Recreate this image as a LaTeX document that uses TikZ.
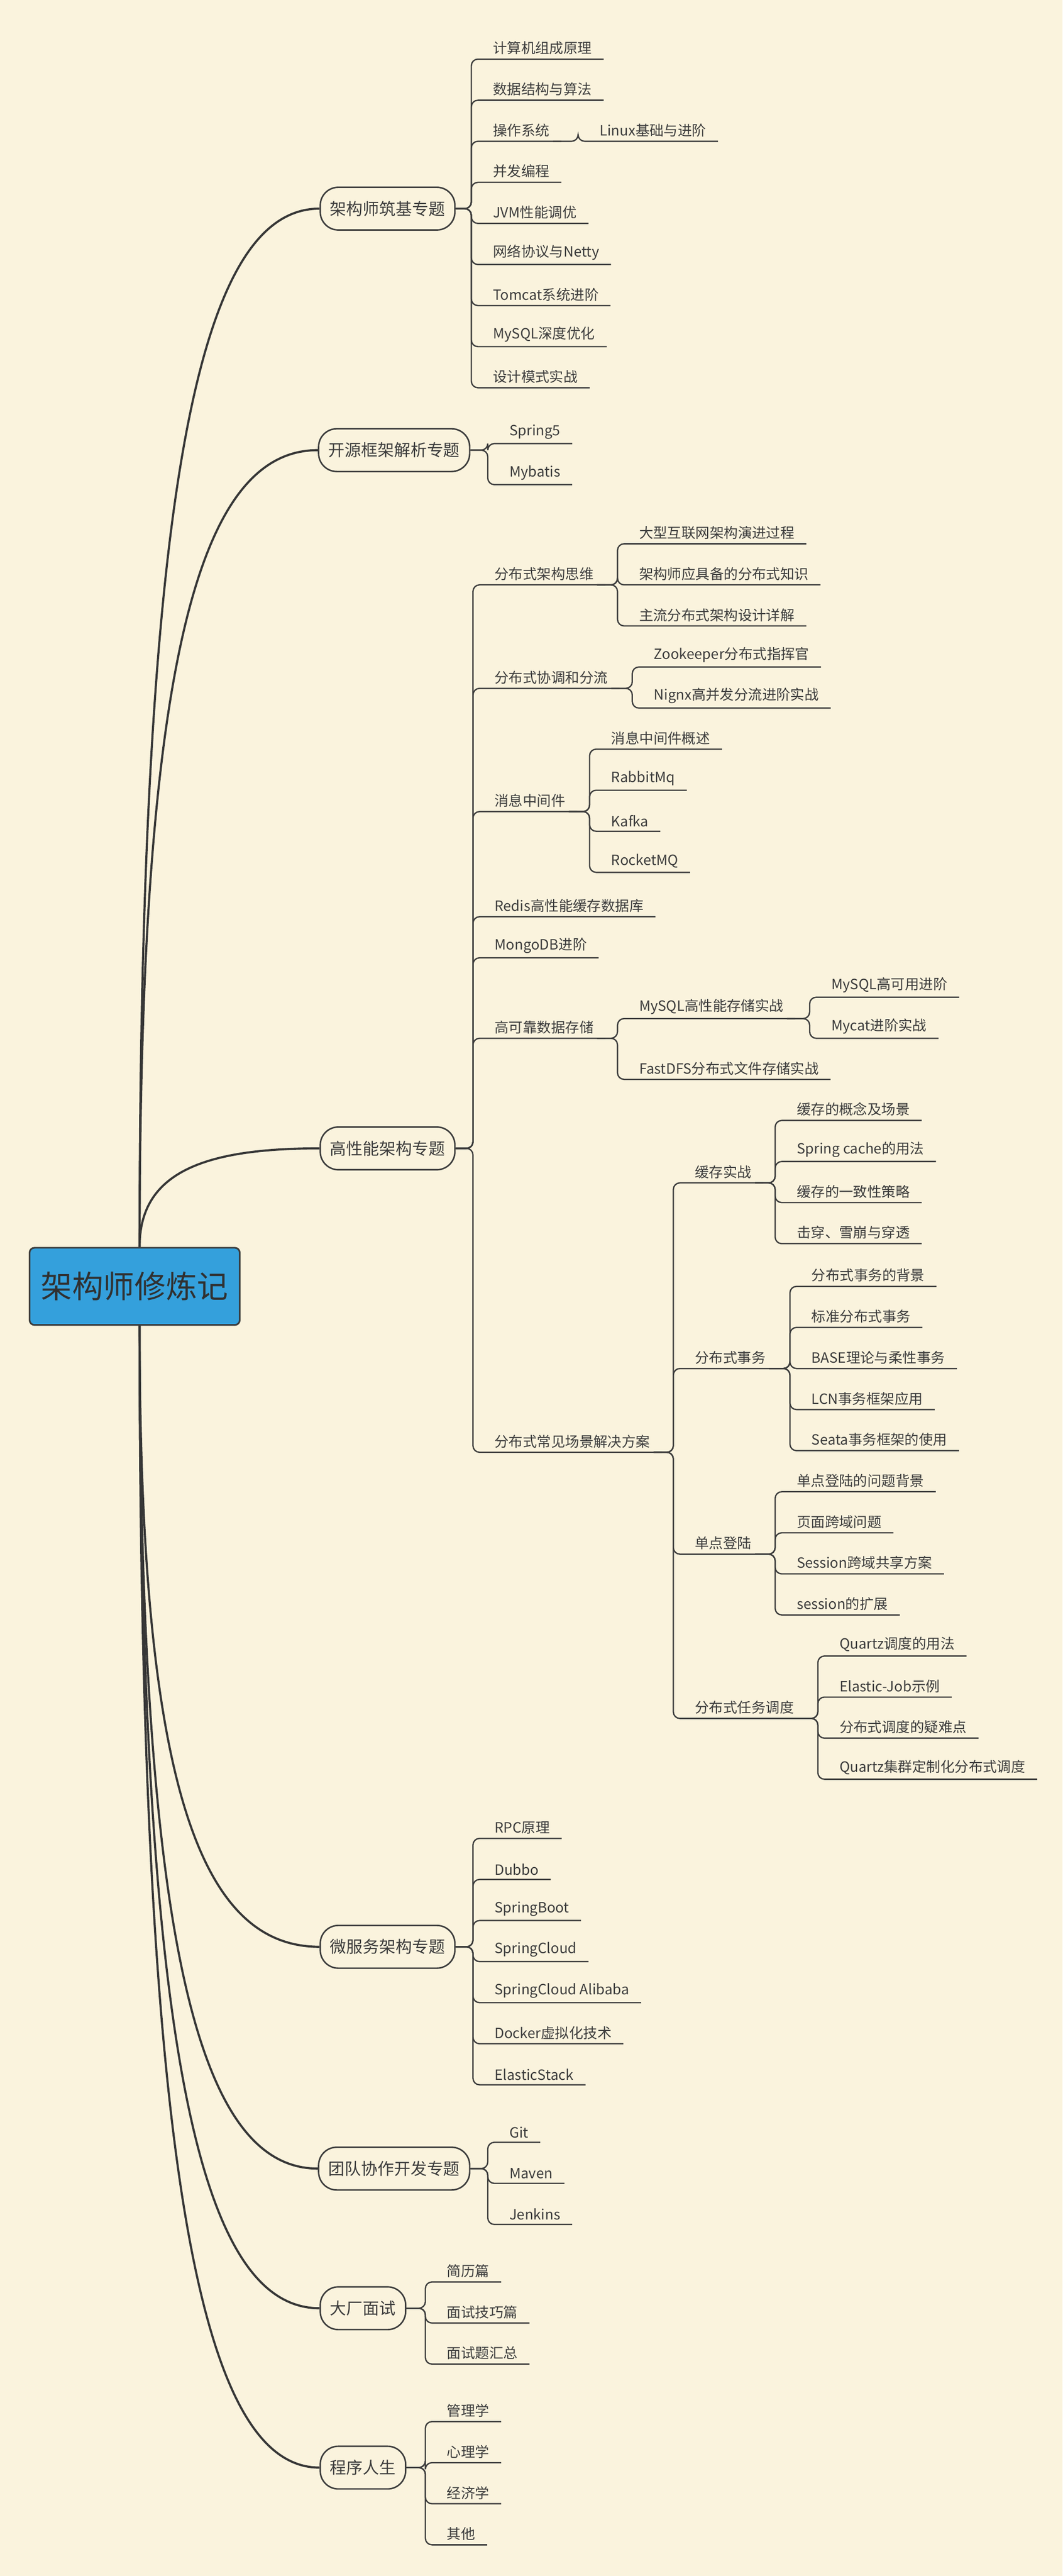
\documentclass[tikz,border=0pt]{standalone}
\usepackage{fontspec}
\usetikzlibrary{calc}
\setmainfont{Noto Sans CJK SC}
\definecolor{bg}{RGB}{250,243,221}
\definecolor{ink}{RGB}{60,60,60}
\definecolor{rootc}{RGB}{52,160,220}
\tikzset{
  ln/.style={draw=ink,line width=0.8pt},
  cv/.style={draw=ink!90!black,line width=1.3pt},
  leaf/.style={inner xsep=2pt,inner ysep=2.5pt,text=ink,font=\fontsize{8.6}{10}\selectfont},
  topic/.style={draw=ink,line width=0.9pt,rounded corners=11pt,fill=bg,minimum height=26pt,inner xsep=6pt,text=ink,font=\fontsize{10}{12}\selectfont},
  rootbox/.style={draw=ink,line width=1pt,fill=rootc,rounded corners=3pt,minimum width=128pt,minimum height=47pt,text=ink!80!black,font=\fontsize{19}{22}\selectfont}
}
\newcommand\lf[5]{%
  \node[leaf,anchor=south west] (#4) at (#2+11,#3) {#5};
  \draw[ln,rounded corners=4pt] (#1) -| (#2,#3) -- ([xshift=5pt]#4.south east);}
\newcommand\crv[2]{%
  \draw[cv] (#1) .. controls ($(#1)!0.75!(#1|-#2.west)$) and ($(#1|-#2.west)!0.35!(#2.west)$) .. (#2.west);}
\begin{document}
\begin{tikzpicture}[x=1pt,y=-1pt]
\fill[bg] (0,0) rectangle (647,1568);
\useasboundingbox (0,0) rectangle (647,1568);
\node[rootbox] (root) at (82,783) {架构师修炼记};
\node[topic] (A) at (236,127) {架构师筑基专题};
\node[topic] (B) at (240,274) {开源框架解析专题};
\node[topic] (C) at (236,699) {高性能架构专题};
\node[topic] (D) at (236,1185) {微服务架构专题};
\node[topic] (E) at (240,1320) {团队协作开发专题};
\node[topic] (F) at (221,1405) {大厂面试};
\node[topic] (G) at (221,1502) {程序人生};
\coordinate (rt) at ([xshift=3pt]root.north);
\coordinate (rb) at ([xshift=3pt]root.south);
\crv{rt}{A}\crv{rt}{B}\crv{rt}{C}
\crv{rb}{D}\crv{rb}{E}\crv{rb}{F}\crv{rb}{G}
% A
\lf{A.east}{287}{36}{a1}{计算机组成原理}
\lf{A.east}{287}{61}{a2}{数据结构与算法}
\lf{A.east}{287}{86}{a3}{操作系统}
\lf{a3.south east}{352}{86}{a31}{Linux基础与进阶}
\lf{A.east}{287}{111}{a4}{并发编程}
\lf{A.east}{287}{136}{a5}{JVM性能调优}
\lf{A.east}{287}{161}{a6}{网络协议与Netty}
\lf{A.east}{287}{186}{a7}{Tomcat系统进阶}
\lf{A.east}{287}{211}{a8}{MySQL深度优化}
\lf{A.east}{287}{236}{a9}{设计模式实战}
% B
\lf{B.east}{297}{270}{b1}{Spring5}
\lf{B.east}{297}{295}{b2}{Mybatis}
% C
\lf{C.east}{288}{356}{c1}{分布式架构思维}
\lf{c1.south east}{376}{331}{c11}{大型互联网架构演进过程}
\lf{c1.south east}{376}{356}{c12}{架构师应具备的分布式知识}
\lf{c1.south east}{376}{381}{c13}{主流分布式架构设计详解}
\lf{C.east}{288}{419}{c2}{分布式协调和分流}
\lf{c2.south east}{385}{406}{c21}{Zookeeper分布式指挥官}
\lf{c2.south east}{385}{431}{c22}{Nignx高并发分流进阶实战}
\lf{C.east}{288}{494}{c3}{消息中间件}
\lf{c3.south east}{359}{456}{c31}{消息中间件概述}
\lf{c3.south east}{359}{481}{c32}{RabbitMq}
\lf{c3.south east}{359}{506}{c33}{Kafka}
\lf{c3.south east}{359}{531}{c34}{RocketMQ}
\lf{C.east}{288}{558}{c4}{Redis高性能缓存数据库}
\lf{C.east}{288}{583}{c5}{MongoDB进阶}
\lf{C.east}{288}{632}{c6}{高可靠数据存储}
\lf{c6.south east}{376}{620}{c61}{MySQL高性能存储实战}
\lf{c61.south east}{493}{607}{c611}{MySQL高可用进阶}
\lf{c61.south east}{493}{632}{c612}{Mycat进阶实战}
\lf{c6.south east}{376}{657}{c62}{FastDFS分布式文件存储实战}
\lf{C.east}{288}{884}{c7}{分布式常见场景解决方案}
\lf{c7.south east}{410}{720}{c71}{缓存实战}
\lf{c71.south east}{472}{682}{c711}{缓存的概念及场景}
\lf{c71.south east}{472}{707}{c712}{Spring cache的用法}
\lf{c71.south east}{472}{732}{c713}{缓存的一致性策略}
\lf{c71.south east}{472}{757}{c714}{击穿、雪崩与穿透}
\lf{c7.south east}{410}{833}{c72}{分布式事务}
\lf{c72.south east}{481}{783}{c721}{分布式事务的背景}
\lf{c72.south east}{481}{808}{c722}{标准分布式事务}
\lf{c72.south east}{481}{833}{c723}{BASE理论与柔性事务}
\lf{c72.south east}{481}{858}{c724}{LCN事务框架应用}
\lf{c72.south east}{481}{883}{c725}{Seata事务框架的使用}
\lf{c7.south east}{410}{946}{c73}{单点登陆}
\lf{c73.south east}{472}{908}{c731}{单点登陆的问题背景}
\lf{c73.south east}{472}{933}{c732}{页面跨域问题}
\lf{c73.south east}{472}{958}{c733}{Session跨域共享方案}
\lf{c73.south east}{472}{983}{c734}{session的扩展}
\lf{c7.south east}{410}{1046}{c74}{分布式任务调度}
\lf{c74.south east}{498}{1008}{c741}{Quartz调度的用法}
\lf{c74.south east}{498}{1033}{c742}{Elastic-Job示例}
\lf{c74.south east}{498}{1058}{c743}{分布式调度的疑难点}
\lf{c74.south east}{498}{1083}{c744}{Quartz集群定制化分布式调度}
% D
\lf{D.east}{288}{1119}{d1}{RPC原理}
\lf{D.east}{288}{1144}{d2}{Dubbo}
\lf{D.east}{288}{1169}{d3}{SpringBoot}
\lf{D.east}{288}{1194}{d4}{SpringCloud}
\lf{D.east}{288}{1219}{d5}{SpringCloud Alibaba}
\lf{D.east}{288}{1244}{d6}{Docker虚拟化技术}
\lf{D.east}{288}{1269}{d7}{ElasticStack}
% E
\lf{E.east}{297}{1304}{e1}{Git}
\lf{E.east}{297}{1329}{e2}{Maven}
\lf{E.east}{297}{1354}{e3}{Jenkins}
% F
\lf{F.east}{259}{1389}{f1}{简历篇}
\lf{F.east}{259}{1414}{f2}{面试技巧篇}
\lf{F.east}{259}{1439}{f3}{面试题汇总}
% G
\lf{G.east}{259}{1474}{g1}{管理学}
\lf{G.east}{259}{1499}{g2}{心理学}
\lf{G.east}{259}{1524}{g3}{经济学}
\lf{G.east}{259}{1549}{g4}{其他}
\end{tikzpicture}
\end{document}
